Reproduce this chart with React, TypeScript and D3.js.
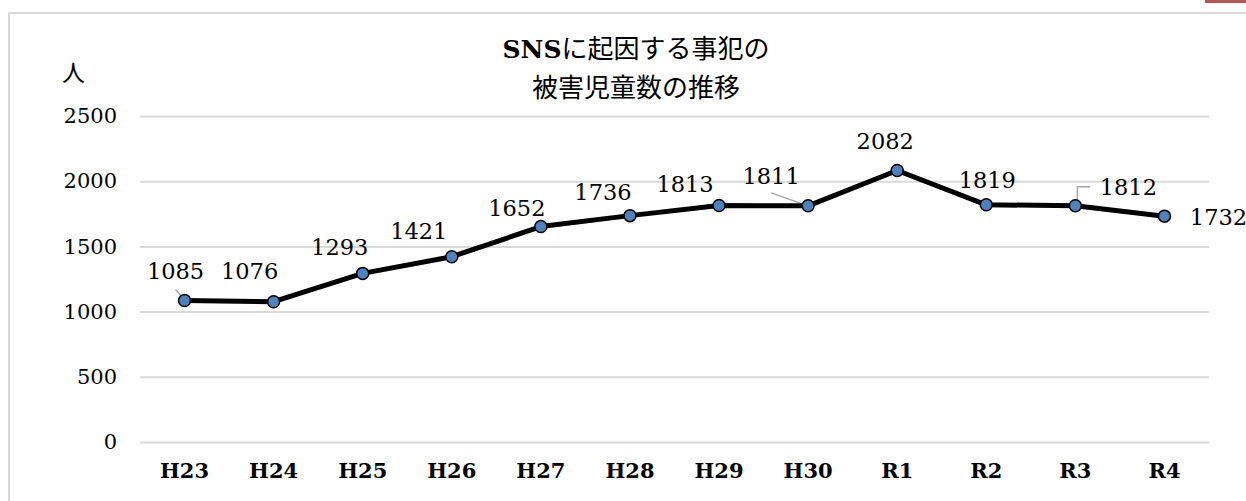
import React from "react";
import { useEffect, useRef } from "react";
import * as d3 from "d3";

const categories = ["H23", "H24", "H25", "H26", "H27", "H28", "H29", "H30", "R1", "R2", "R3", "R4"];
const victims = [1085, 1076, 1293, 1421, 1652, 1736, 1813, 1811, 2082, 1819, 1812, 1732];
const yTicks = [0, 500, 1000, 1500, 2000, 2500];
const titleLatin = "SNS";
const titleLines = ["に起因する事犯の", "被害児童数の推移"];
const unitLabel = "人";

const App: React.FC = () => {
  const svgRef = useRef<SVGSVGElement | null>(null);
  const W = 1246;
  const H = 501;
  const plot = { left: 140, right: 1209, top: 116, bottom: 442 };
  const serif = "'DejaVu Serif', 'Noto Serif CJK JP', 'Noto Sans CJK JP', serif";
  const jp = "'Noto Sans CJK JP', sans-serif";
  const lineColor = "#000000";
  const markerColor = "#4f81bd";
  const gridColor = "#d9d9d9";

  // manual label offsets (dx, dy of label centre from point), like the hand-moved Excel labels
  const labelOffsets: [number, number][] = [
    [-9, -30], [-24, -31], [-23, -26], [-33, -26], [-24, -19], [-27, -24],
    [-34, -22], [-37, -30], [-12, -30], [1, -25], [53, -19], [54, 1],
  ];

  useEffect(() => {
    if (!svgRef.current) return;
    const svg = d3.select(svgRef.current);
    svg.selectAll("*").remove();

    // chart frame
    svg
      .append("rect")
      .attr("x", 9)
      .attr("y", 13)
      .attr("width", W + 20)
      .attr("height", H + 20)
      .attr("fill", "#fff")
      .attr("stroke", gridColor)
      .attr("stroke-width", 2);

    // red tab at top right
    svg
      .append("rect")
      .attr("x", 1205)
      .attr("y", -2)
      .attr("width", 50)
      .attr("height", 5)
      .attr("fill", "#b4575a");

    const xScale = d3
      .scaleBand()
      .domain(categories)
      .range([plot.left, plot.right]);

    const yScale = d3
      .scaleLinear()
      .domain([0, 2500])
      .range([plot.bottom, plot.top]);

    const cx = (c: string) => (xScale(c) as number) + xScale.bandwidth() / 2;

    // gridlines + y labels
    const yAxis = d3
      .axisLeft(yScale)
      .tickValues(yTicks)
      .tickFormat(d3.format("d"))
      .tickSize(-(plot.right - plot.left))
      .tickPadding(23);
    const gy = svg
      .append("g")
      .attr("transform", `translate(${plot.left},0)`)
      .call(yAxis);
    gy.select(".domain").remove();
    gy.selectAll(".tick line").attr("stroke", gridColor).attr("stroke-width", 2);
    gy.selectAll(".tick text")
      .attr("fill", "#000")
      .style("font-family", serif)
      .style("font-size", "21px");

    // x labels
    const xAxis = d3.axisBottom(xScale).tickSize(0).tickPadding(21);
    const gx = svg
      .append("g")
      .attr("transform", `translate(0,${plot.bottom})`)
      .call(xAxis);
    gx.select(".domain").remove();
    gx.selectAll(".tick text")
      .attr("fill", "#000")
      .style("font-family", serif)
      .style("font-weight", "bold")
      .style("font-size", "21px");

    // unit label
    svg
      .append("text")
      .attr("x", 62)
      .attr("y", 81)
      .text(unitLabel)
      .style("font-family", jp)
      .style("font-size", "23px")
      .attr("fill", "#000");

    // title
    const title = svg
      .append("text")
      .attr("text-anchor", "middle")
      .style("font-family", jp)
      .style("font-size", "26px")
      .attr("fill", "#000");
    const l1 = title.append("tspan").attr("x", 636).attr("y", 58);
    l1.append("tspan")
      .style("font-family", serif)
      .style("font-weight", "bold")
      .style("font-size", "25px")
      .text(titleLatin);
    l1.append("tspan").text(titleLines[0]);
    title.append("tspan").attr("x", 636).attr("y", 97).text(titleLines[1]);

    const points = categories.map((c, i) => ({ c, v: victims[i], i }));

    // leader lines
    const leaders: { i: number; pts: [number, number][] }[] = [
      { i: 0, pts: [[-9, -11], [-2, -3]] },
      { i: 7, pts: [[-37, -13], [-3, -1]] },
      { i: 10, pts: [[15, -19], [2, -19], [2, -5]] },
    ];
    leaders.forEach((l) => {
      const p = points[l.i];
      const x0 = cx(p.c);
      const y0 = yScale(p.v);
      svg
        .append("path")
        .attr("d", d3.line()(l.pts.map(([dx, dy]) => [x0 + dx, y0 + dy] as [number, number])))
        .attr("fill", "none")
        .attr("stroke", "#a6a6a6")
        .attr("stroke-width", 1.5);
    });

    // line
    const line = d3
      .line<{ c: string; v: number }>()
      .x((d) => cx(d.c))
      .y((d) => yScale(d.v));
    svg
      .append("path")
      .datum(points)
      .attr("d", line)
      .attr("fill", "none")
      .attr("stroke", lineColor)
      .attr("stroke-width", 5)
      .attr("stroke-linejoin", "round");

    // markers
    svg
      .selectAll(".marker")
      .data(points)
      .enter()
      .append("circle")
      .attr("class", "marker")
      .attr("cx", (d) => cx(d.c))
      .attr("cy", (d) => yScale(d.v))
      .attr("r", 6)
      .attr("fill", markerColor)
      .attr("stroke", "#000")
      .attr("stroke-width", 1.5);

    // data labels
    svg
      .selectAll(".dlabel")
      .data(points)
      .enter()
      .append("text")
      .attr("class", "dlabel")
      .attr("x", (d) => cx(d.c) + labelOffsets[d.i][0])
      .attr("y", (d) => yScale(d.v) + labelOffsets[d.i][1])
      .attr("text-anchor", "middle")
      .attr("dominant-baseline", "central")
      .style("font-family", serif)
      .style("font-size", "22.5px")
      .attr("fill", "#000")
      .text((d) => d.v.toString());
  }, []);

  return (
    <div style={{ position: "absolute", left: 0, top: 0, width: W, height: H, overflow: "hidden", background: "#fff" }}>
      <svg ref={svgRef} width={W} height={H}></svg>
    </div>
  );
};

export default App;
